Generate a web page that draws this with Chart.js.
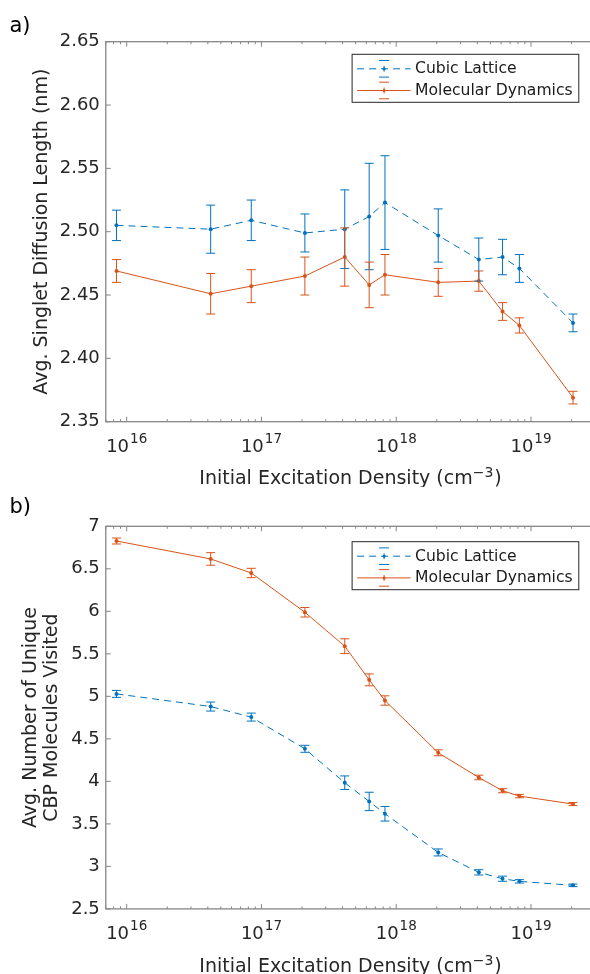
<!DOCTYPE html>
<html>
<head>
<meta charset="utf-8">
<title>Singlet diffusion vs. initial excitation density</title>
<script src="https://cdn.jsdelivr.net/npm/chart.js@4/dist/chart.umd.min.js"></script>
<style>
  html, body { margin: 0; padding: 0; overflow: hidden; background: #ffffff; }
  /* the axes box runs a few pixels past the right edge, so the figure is clipped */
  #wrap { position: relative; width: 590px; height: 974px; overflow: hidden; }
  .panel { position: absolute; left: 0; width: 600px; height: 487px; }
</style>
</head>
<body>
<div id="wrap">
  <div class="panel" style="top:0"><canvas id="chartA" width="600" height="487"></canvas></div>
  <div class="panel" style="top:487px"><canvas id="chartB" width="600" height="487"></canvas></div>
</div>
<script>
// Initial excitation densities (cm^-3), shared by both panels
const densities = [8.4e15, 4.2e16, 8.4e16, 2.1e17, 4.15e17, 6.3e17, 8.25e17, 2.05e18, 4.1e18, 6.15e18, 8.2e18, 2.05e19];

// Panel a: average singlet diffusion length (nm) and error half-widths
const cubicLength    = [2.505, 2.502, 2.509, 2.499, 2.502, 2.512, 2.523, 2.497, 2.478, 2.480, 2.471, 2.428];
const cubicLengthErr = [0.012, 0.019, 0.016, 0.015, 0.031, 0.042, 0.037, 0.021, 0.017, 0.014, 0.011, 0.007];
const mdLength       = [2.469, 2.451, 2.457, 2.465, 2.480, 2.458, 2.466, 2.460, 2.461, 2.437, 2.426, 2.369];
const mdLengthErr    = [0.009, 0.016, 0.013, 0.015, 0.023, 0.018, 0.016, 0.011, 0.008, 0.007, 0.006, 0.005];

// Panel b: average number of unique CBP molecules visited and error half-widths
const cubicVisited    = [5.029, 4.880, 4.756, 4.383, 3.984, 3.764, 3.619, 3.164, 2.930, 2.855, 2.824, 2.777];
const cubicVisitedErr = [0.041, 0.053, 0.047, 0.041, 0.080, 0.108, 0.086, 0.041, 0.031, 0.030, 0.020, 0.015];
const mdVisited       = [6.827, 6.616, 6.451, 5.989, 5.590, 5.194, 4.951, 4.336, 4.046, 3.890, 3.827, 3.733];
const mdVisitedErr    = [0.035, 0.074, 0.055, 0.056, 0.087, 0.070, 0.055, 0.035, 0.027, 0.024, 0.020, 0.018];

// Axis ticks
const lengthTicks   = [2.35, 2.40, 2.45, 2.50, 2.55, 2.60, 2.65];
const visitedTicks  = [2.5, 3, 3.5, 4, 4.5, 5, 5.5, 6, 6.5, 7];
const decadeExps    = [16, 17, 18, 19];
const seriesNames   = ['Cubic Lattice', 'Molecular Dynamics'];
const xTitleMain    = 'Initial Excitation Density (cm';
const xTitleExp     = '\u22123';

const FAMILY = '"DejaVu Sans", "Liberation Sans", sans-serif';
const BLUE = '#0072BD';
const ORANGE = '#D95319';
const INK = '#262626';
const FRAME = '#868686';
const CAP = 4.5;

function points(xs, ys) { return xs.map((x, i) => ({ x: x, y: ys[i] })); }

// Error bars, axis frame with inward ticks, decade labels, x title, panel letter, legend
const panelDecor = {
  id: 'panelDecor',
  afterDatasetsDraw(chart) {
    const { ctx, scales: { x, y } } = chart;
    chart.data.datasets.forEach((ds) => {
      ctx.save();
      ctx.strokeStyle = ds.borderColor;
      ctx.lineWidth = 1;
      ds.data.forEach((p, i) => {
        const e = ds.errors[i];
        const px = x.getPixelForValue(p.x);
        const top = y.getPixelForValue(p.y + e);
        const bot = y.getPixelForValue(p.y - e);
        ctx.beginPath();
        ctx.moveTo(px, top); ctx.lineTo(px, bot);
        ctx.moveTo(px - CAP, top); ctx.lineTo(px + CAP, top);
        ctx.moveTo(px - CAP, bot); ctx.lineTo(px + CAP, bot);
        ctx.stroke();
      });
      ctx.restore();
    });
  },
  afterDraw(chart, args, opts) {
    const { ctx, chartArea: a, scales: { x, y } } = chart;
    ctx.save();

    // frame
    ctx.strokeStyle = FRAME;
    ctx.lineWidth = 1.3;
    ctx.strokeRect(a.left, a.top, a.right - a.left, a.bottom - a.top);

    // y ticks (inward, both sides)
    ctx.lineWidth = 1;
    ctx.beginPath();
    y.ticks.forEach((t) => {
      const py = y.getPixelForValue(t.value);
      ctx.moveTo(a.left, py); ctx.lineTo(a.left + 5, py);
      ctx.moveTo(a.right, py); ctx.lineTo(a.right - 5, py);
    });
    // x ticks: decades and minor 2..9
    for (let k = 15; k <= 19; k++) {
      for (let m = 1; m <= 9; m++) {
        const v = m * Math.pow(10, k);
        if (v < x.min || v > x.max) continue;
        const px = x.getPixelForValue(v);
        const len = m === 1 ? 5 : 2.5;
        ctx.moveTo(px, a.bottom); ctx.lineTo(px, a.bottom - len);
        ctx.moveTo(px, a.top); ctx.lineTo(px, a.top + len);
      }
    }
    ctx.stroke();

    // decade labels 10^k
    ctx.fillStyle = INK;
    ctx.textBaseline = 'alphabetic';
    ctx.textAlign = 'left';
    const baseFont = '18px ' + FAMILY;
    const supFont = '13.5px ' + FAMILY;
    const labelY = a.bottom + 30.5;
    decadeExps.forEach((e) => {
      const px = x.getPixelForValue(Math.pow(10, e));
      ctx.font = baseFont;
      const wBase = ctx.measureText('10').width;
      ctx.font = supFont;
      const wSup = ctx.measureText(String(e)).width;
      const start = px - (wBase + 1 + wSup) / 2;
      ctx.font = baseFont;
      ctx.fillText('10', start, labelY);
      ctx.font = supFont;
      ctx.fillText(String(e), start + wBase + 1, labelY - 9);
    });

    // x axis title with superscript
    const titleFont = '19px ' + FAMILY;
    const titleSup = '14px ' + FAMILY;
    ctx.font = titleFont;
    const w1 = ctx.measureText(xTitleMain).width;
    const w3 = ctx.measureText(')').width;
    ctx.font = titleSup;
    const w2 = ctx.measureText(xTitleExp).width;
    const cx = (a.left + a.right) / 2;
    let tx = cx - (w1 + w2 + w3 + 1) / 2;
    const ty = a.bottom + 62.6;
    ctx.font = titleFont;
    ctx.fillText(xTitleMain, tx, ty);
    tx += w1;
    ctx.font = titleSup;
    ctx.fillText(xTitleExp, tx, ty - 7);
    tx += w2 + 1;
    ctx.font = titleFont;
    ctx.fillText(')', tx, ty);

    // panel letter
    ctx.fillStyle = '#000000';
    ctx.font = '21px ' + FAMILY;
    ctx.fillText(opts.letter, 9.5, opts.letterY);

    // legend
    const LW = 226.7, LH = 48;
    const L = a.right - opts.legendRight - LW;
    const T = a.top + opts.legendTop;
    ctx.fillStyle = '#ffffff';
    ctx.fillRect(L, T, LW, LH);
    ctx.strokeStyle = INK;
    ctx.lineWidth = 1;
    ctx.strokeRect(L, T, LW, LH);
    chart.data.datasets.forEach((ds, i) => {
      const cy = T + 14.5 + i * 21.7;
      const mx = L + 32;
      ctx.strokeStyle = ds.borderColor;
      ctx.fillStyle = ds.borderColor;
      ctx.lineWidth = 1;
      ctx.setLineDash(ds.borderDash || []);
      ctx.beginPath();
      ctx.moveTo(L + 5, cy); ctx.lineTo(L + 58.5, cy);
      ctx.stroke();
      ctx.setLineDash([]);
      ctx.beginPath();
      ctx.moveTo(mx - 5, cy - 8.3); ctx.lineTo(mx + 5, cy - 8.3);
      ctx.moveTo(mx - 5, cy + 8.3); ctx.lineTo(mx + 5, cy + 8.3);
      ctx.moveTo(mx, cy - 3); ctx.lineTo(mx, cy + 3);
      ctx.stroke();
      ctx.beginPath();
      ctx.arc(mx, cy, 1.5, 0, Math.PI * 2);
      ctx.fill();
      ctx.fillStyle = '#1a1a1a';
      ctx.font = '15.6px ' + FAMILY;
      ctx.textBaseline = 'middle';
      ctx.fillText(ds.label, L + 63, cy + 0.5);
      ctx.textBaseline = 'alphabetic';
    });

    ctx.restore();
  }
};

function buildPanel(id, cfg) {
  const common = {
    borderWidth: 1,
    pointRadius: 2,
    pointHoverRadius: 2,
    pointBorderWidth: 0,
    tension: 0,
    fill: false
  };
  return new Chart(document.getElementById(id), {
    type: 'line',
    data: {
      datasets: [
        Object.assign({}, common, {
          label: seriesNames[0],
          data: points(densities, cfg.cubic),
          errors: cfg.cubicErr,
          borderColor: BLUE,
          backgroundColor: BLUE,
          pointBackgroundColor: BLUE,
          borderDash: [7, 5]
        }),
        Object.assign({}, common, {
          label: seriesNames[1],
          data: points(densities, cfg.md),
          errors: cfg.mdErr,
          borderColor: ORANGE,
          backgroundColor: ORANGE,
          pointBackgroundColor: ORANGE,
          borderDash: []
        })
      ]
    },
    options: {
      responsive: false,
      animation: false,
      devicePixelRatio: 1,
      parsing: true,
      layout: { padding: { left: 0, right: 4.7, top: cfg.areaTop, bottom: 0 } },
      plugins: {
        legend: { display: false },
        tooltip: { enabled: false },
        panelDecor: {
          letter: cfg.letter,
          letterY: cfg.letterY,
          legendRight: 16.5,
          legendTop: cfg.legendTop
        }
      },
      scales: {
        x: {
          type: 'logarithmic',
          min: 7e15,
          max: 3e19,
          grid: { display: false, drawTicks: false },
          border: { display: false },
          ticks: { display: false },
          afterFit(s) { s.height = 487 - cfg.areaBottom; }
        },
        y: {
          type: 'linear',
          min: cfg.ticks[0],
          max: cfg.ticks[cfg.ticks.length - 1],
          grid: { display: false, drawTicks: false },
          border: { display: false },
          afterBuildTicks(s) { s.ticks = cfg.ticks.map((v) => ({ value: v })); },
          ticks: {
            color: INK,
            padding: 6,
            font: { family: FAMILY, size: 18 },
            callback: cfg.tickLabel
          },
          title: {
            display: true,
            text: cfg.yTitle,
            color: INK,
            font: { family: FAMILY, size: 19, lineHeight: cfg.titleLineHeight },
            padding: { top: cfg.titlePad, bottom: 0 }
          },
          afterFit(s) { s.width = 105.8; }
        }
      }
    },
    plugins: [panelDecor]
  });
}

buildPanel('chartA', {
  cubic: cubicLength, cubicErr: cubicLengthErr,
  md: mdLength, mdErr: mdLengthErr,
  ticks: lengthTicks,
  tickLabel: (v) => Number(v).toFixed(2),
  yTitle: 'Avg. Singlet Diffusion Length (nm)',
  titleLineHeight: 1.2,
  titlePad: 31,
  areaTop: 41.7,
  areaBottom: 421.7,
  letter: 'a)',
  letterY: 31.5,
  legendTop: 12.6
});

buildPanel('chartB', {
  cubic: cubicVisited, cubicErr: cubicVisitedErr,
  md: mdVisited, mdErr: mdVisitedErr,
  ticks: visitedTicks,
  tickLabel: (v) => String(v),
  yTitle: ['Avg. Number of Unique', 'CBP Molecules Visited'],
  titleLineHeight: '21px',
  titlePad: 20.5,
  areaTop: 39.3,
  areaBottom: 421.9,
  letter: 'b)',
  letterY: 26.3,
  legendTop: 15.4
});
</script>
</body>
</html>
